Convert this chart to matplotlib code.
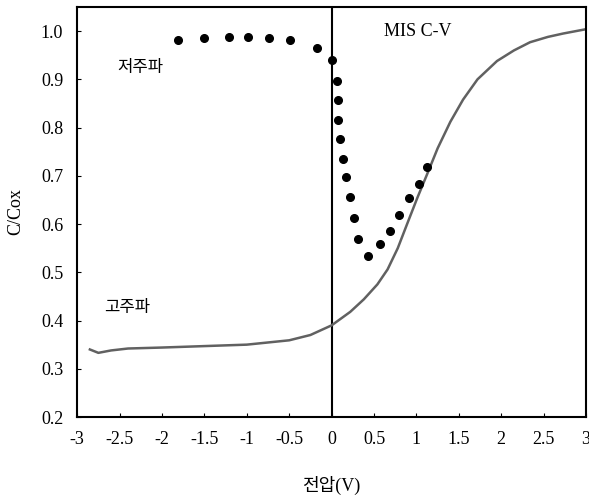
import matplotlib
matplotlib.use("Agg")
import matplotlib.pyplot as plt

plt.rcParams['font.family'] = ['Liberation Serif', 'Noto Sans CJK KR']
plt.rcParams['font.size'] = 13

# high-frequency C-V curve
hf_v = [-2.85, -2.75, -2.6, -2.4, -2.0, -1.5, -1.0, -0.5, -0.25, 0.0, 0.22, 0.38,
        0.54, 0.66, 0.78, 0.89, 1.01, 1.13, 1.25, 1.40, 1.55, 1.72, 1.95, 2.15,
        2.34, 2.55, 2.73, 3.0]
hf_c = [0.340, 0.333, 0.338, 0.342, 0.344, 0.347, 0.350, 0.359, 0.370, 0.390,
        0.418, 0.444, 0.475, 0.506, 0.550, 0.600, 0.654, 0.705, 0.757, 0.812,
        0.858, 0.900, 0.938, 0.960, 0.977, 0.988, 0.995, 1.004]

# low-frequency measurement points
lf_v = [-1.81, -1.50, -1.21, -0.98, -0.74, -0.49, -0.17, 0.01, 0.06, 0.07, 0.07,
        0.10, 0.13, 0.17, 0.22, 0.26, 0.31, 0.43, 0.57, 0.69, 0.80, 0.91, 1.03, 1.13]
lf_c = [0.981, 0.986, 0.987, 0.987, 0.986, 0.981, 0.965, 0.940, 0.897, 0.858,
        0.816, 0.777, 0.734, 0.697, 0.656, 0.612, 0.569, 0.534, 0.559, 0.586,
        0.619, 0.654, 0.683, 0.718]

x_ticks = [-3, -2.5, -2, -1.5, -1, -0.5, 0, 0.5, 1, 1.5, 2, 2.5, 3]
y_ticks = [0.2, 0.3, 0.4, 0.5, 0.6, 0.7, 0.8, 0.9, 1.0]

fig = plt.figure(figsize=(5.89, 5.0), dpi=100)
ax = fig.add_axes([0.131, 0.166, 0.864, 0.820])

ax.plot(hf_v, hf_c, color='0.38', lw=1.8, zorder=2)
ax.plot(lf_v, lf_c, 'o', color='black', ms=5.5, zorder=3)
ax.axvline(0, color='black', lw=1.5, zorder=1)

ax.set_xlim(-3, 3)
ax.set_ylim(0.2, 1.05)
ax.set_xticks(x_ticks)
ax.set_xticklabels([f"{t:g}" for t in x_ticks])
ax.set_yticks(y_ticks)
ax.set_yticklabels([f"{t:.1f}" for t in y_ticks])
ax.tick_params(direction='in', length=3, width=0.8, pad=10)

for s in ax.spines.values():
    s.set_linewidth(1.5)

ax.text(-2.26, 0.924, '저주파', ha='center', va='center', fontsize=12)
ax.text(-2.41, 0.427, '고주파', ha='center', va='center', fontsize=12)
ax.text(1.02, 1.0, 'MIS C-V', ha='center', va='center', fontsize=13)

ax.set_xlabel('전압(V)', labelpad=20)
ax.set_ylabel('C/Cox', labelpad=12)

fig.savefig('out.png', dpi=100)
